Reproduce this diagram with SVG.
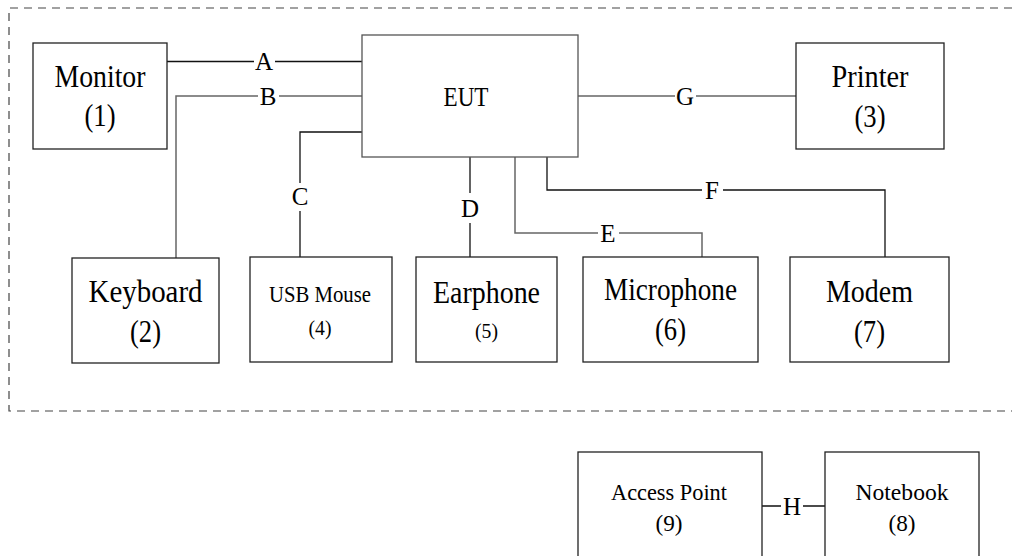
<svg xmlns="http://www.w3.org/2000/svg" width="1012" height="556" viewBox="0 0 1012 556">
<style>
  .box { fill: #fff; stroke: #222; stroke-width: 1.3; }
  .t { font-family: "Liberation Serif", "Times New Roman", serif; fill: #000; text-anchor: middle; }
  .big { font-size: 32px; }
  .mid { font-size: 24px; }
  .sm { font-size: 22px; }
  .lbl { font-family: "Liberation Serif", "Times New Roman", serif; font-size: 25px; fill: #000; text-anchor: middle; }
  .ln { fill: none; stroke: #111; stroke-width: 1.3; }
  .lg { fill: none; stroke: #666; stroke-width: 1.5; }
</style>
<rect x="0" y="0" width="1012" height="556" fill="#fff"/>
<path d="M1012,8 H9 V411 H1012" fill="none" stroke="#444" stroke-width="1.2" stroke-dasharray="8,6"/>

<g id="connectors">
  <path class="ln" d="M167,61.5 H254 M275,61.5 H362"/>
  <path class="lg" d="M176,258 V96 H258 M279,96 H362"/>
  <path class="ln" d="M362,132 H300 V183 M300,211 V257"/>
  <path class="ln" d="M470,157 V193 M470,223 V257"/>
  <path class="lg" d="M515,157 V233 H598 M619,233 H702 V257"/>
  <path class="ln" d="M547,157 V190 H702 M723,190 H885 V257"/>
  <path class="lg" d="M578,96 H675 M696,96 H796"/>
  <path class="ln" d="M762,506 H781 M803,506 H825"/>
  <text class="lbl" x="264" y="70">A</text>
  <text class="lbl" x="268" y="105">B</text>
  <text class="lbl" x="300" y="205">C</text>
  <text class="lbl" x="470" y="217">D</text>
  <text class="lbl" x="608" y="242">E</text>
  <text class="lbl" x="712" y="199">F</text>
  <text class="lbl" x="685" y="105">G</text>
  <text class="lbl" x="792" y="515">H</text>
</g>

<g id="monitor">
  <rect class="box" x="33" y="43" width="134" height="106"/>
  <text class="t big" x="100" y="87" textLength="91" lengthAdjust="spacingAndGlyphs">Monitor</text>
  <text class="t big" x="100" y="126" textLength="31" lengthAdjust="spacingAndGlyphs">(1)</text>
</g>
<g id="eut">
  <rect class="box" x="362" y="35" width="216" height="122" style="stroke:#555"/>
  <text class="t" x="466" y="106" font-size="27" textLength="45" lengthAdjust="spacingAndGlyphs">EUT</text>
</g>
<g id="printer">
  <rect class="box" x="796" y="43" width="148" height="106"/>
  <text class="t big" x="870" y="87" textLength="77" lengthAdjust="spacingAndGlyphs">Printer</text>
  <text class="t big" x="870" y="127" textLength="31" lengthAdjust="spacingAndGlyphs">(3)</text>
</g>
<g id="keyboard">
  <rect class="box" x="72" y="258" width="147" height="105"/>
  <text class="t big" x="145.5" y="302" textLength="114" lengthAdjust="spacingAndGlyphs">Keyboard</text>
  <text class="t big" x="145.5" y="342" textLength="31" lengthAdjust="spacingAndGlyphs">(2)</text>
</g>
<g id="usbmouse">
  <rect class="box" x="250" y="257" width="142" height="105"/>
  <text class="t mid" x="320" y="302" textLength="102" lengthAdjust="spacingAndGlyphs">USB Mouse</text>
  <text class="t sm" x="320" y="335" textLength="23" lengthAdjust="spacingAndGlyphs">(4)</text>
</g>
<g id="earphone">
  <rect class="box" x="416" y="257" width="141" height="105"/>
  <text class="t big" x="486.5" y="303" textLength="107" lengthAdjust="spacingAndGlyphs">Earphone</text>
  <text class="t sm" x="486.5" y="338" textLength="23" lengthAdjust="spacingAndGlyphs">(5)</text>
</g>
<g id="microphone">
  <rect class="box" x="583" y="257" width="175" height="105"/>
  <text class="t big" x="670.5" y="300" textLength="133" lengthAdjust="spacingAndGlyphs">Microphone</text>
  <text class="t big" x="670.5" y="340" textLength="31" lengthAdjust="spacingAndGlyphs">(6)</text>
</g>
<g id="modem">
  <rect class="box" x="790" y="257" width="159" height="105"/>
  <text class="t big" x="869.5" y="302" textLength="87" lengthAdjust="spacingAndGlyphs">Modem</text>
  <text class="t big" x="869.5" y="342" textLength="31" lengthAdjust="spacingAndGlyphs">(7)</text>
</g>
<g id="accesspoint">
  <rect class="box" x="578" y="452" width="184" height="120"/>
  <text class="t mid" x="669" y="500" textLength="116" lengthAdjust="spacingAndGlyphs">Access Point</text>
  <text class="t mid" x="669" y="531" textLength="27" lengthAdjust="spacingAndGlyphs">(9)</text>
</g>
<g id="notebook">
  <rect class="box" x="825" y="452" width="154" height="120"/>
  <text class="t mid" x="902" y="500" textLength="93" lengthAdjust="spacingAndGlyphs">Notebook</text>
  <text class="t mid" x="902" y="531" textLength="27" lengthAdjust="spacingAndGlyphs">(8)</text>
</g>
</svg>
